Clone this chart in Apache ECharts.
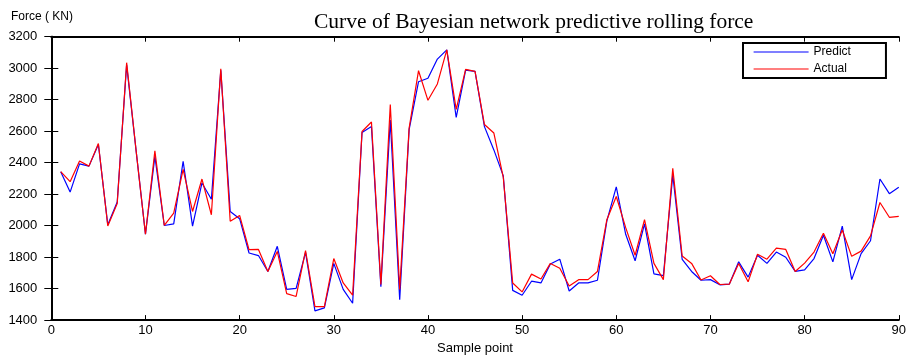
<!DOCTYPE html>
<html>
<head>
<meta charset="utf-8">
<script src="https://cdn.jsdelivr.net/npm/echarts@6/dist/echarts.min.js"></script>
<style>
  html, body { margin: 0; padding: 0; background: #fff; }
  #graph1 { width: 909px; height: 360px; }
</style>
</head>
<body>
<div id="graph1"></div>
<script>
var myChart1 = echarts.init(document.getElementById('graph1'));

// sample point numbers
var samples = [1,2,3,4,5,6,7,8,9,10,11,12,13,14,15,16,17,18,19,20,
  21,22,23,24,25,26,27,28,29,30,31,32,33,34,35,36,37,38,39,40,
  41,42,43,44,45,46,47,48,49,50,51,52,53,54,55,56,57,58,59,60,
  61,62,63,64,65,66,67,68,69,70,71,72,73,74,75,76,77,78,79,80,
  81,82,83,84,85,86,87,88,89,90];

// predicted rolling force (KN)
var predict = [2343,2213,2392,2378,2515,2005,2150,3021,2480,1945,
  2440,2001,2011,2409,1997,2271,2168,2986,2090,2044,
  1826,1810,1709,1869,1595,1601,1830,1459,1478,1760,
  1595,1507,2592,2629,1612,2671,1530,2610,2914,2936,
  3058,3116,2687,2988,2980,2629,2481,2316,1589,1558,
  1647,1636,1756,1787,1585,1636,1636,1653,2030,2246,
  1945,1777,2011,1694,1682,2322,1785,1709,1653,1657,
  1624,1628,1770,1673,1812,1760,1832,1799,1709,1719,
  1791,1939,1770,1997,1657,1822,1904,2296,2203,2244];

// actual rolling force (KN)
var actual = [2343,2279,2411,2378,2522,1998,2141,3035,2480,1945,
  2475,2001,2079,2357,2090,2296,2069,2996,2028,2065,
  1847,1849,1709,1836,1568,1550,1842,1486,1486,1791,
  1636,1558,2598,2658,1626,2769,1595,2620,2984,2796,
  2900,3116,2739,2992,2980,2642,2588,2306,1636,1579,
  1692,1661,1760,1729,1616,1657,1657,1709,2038,2185,
  1987,1812,2038,1760,1657,2364,1807,1760,1655,1682,
  1626,1628,1760,1643,1818,1787,1857,1849,1709,1762,
  1832,1952,1822,1972,1805,1838,1935,2147,2053,2059];

var xTicks = [0,10,20,30,40,50,60,70,80,90];
var yTicks = [1400,1600,1800,2000,2200,2400,2600,2800,3000,3200];

function pairs(xs, ys) {
    var out = [];
    for (var i = 0; i < xs.length; i++) {
        out.push([xs[i], ys[i]]);
    }
    return out;
}

var axisFont = { fontFamily: 'Liberation Sans', fontSize: 13, color: '#000' };
var frameLine = { show: true, lineStyle: { color: '#000', width: 2 } };
var plain = function (v) { return String(v); };

var option = {
    animation: false,
    backgroundColor: '#fff',
    title: {
        text: 'Curve of Bayesian network predictive rolling force',
        left: 309,
        top: 6,
        textStyle: {
            fontFamily: 'Liberation Serif',
            fontSize: 21.5,
            fontWeight: 'normal',
            color: '#000'
        }
    },
    legend: {
        data: ['Predict', 'Actual'],
        orient: 'vertical',
        left: 743,
        top: 43,
        itemWidth: 55,
        itemHeight: 12,
        itemGap: 5,
        padding: [3, 35, 3, 10],
        borderColor: '#000',
        borderWidth: 2,
        backgroundColor: '#fff',
        itemStyle: { opacity: 0 },
        lineStyle: { width: 1.2 },
        textStyle: { fontFamily: 'Liberation Sans', fontSize: 12, color: '#000' }
    },
    graphic: [{
        type: 'text',
        left: 11,
        top: 11,
        style: {
            text: 'Force ( KN)',
            font: '12px "Liberation Sans"',
            fill: '#000'
        }
    }],
    grid: {
        left: 51.3,
        right: 4.5,
        top: 36.7,
        bottom: 31.3
    },
    xAxis: [{
        type: 'value',
        min: 0,
        max: 90,
        interval: 10,
        name: 'Sample point',
        nameLocation: 'middle',
        nameGap: 17,
        nameTextStyle: axisFont,
        axisLine: frameLine,
        axisTick: { show: true, inside: true, length: 5, lineStyle: { color: '#000' } },
        axisLabel: Object.assign({ margin: 4, customValues: xTicks, formatter: plain }, axisFont),
        splitLine: { show: false }
    }, {
        type: 'value',
        position: 'top',
        min: 0,
        max: 90,
        interval: 10,
        axisLine: frameLine,
        axisTick: { show: true, inside: true, length: 5, lineStyle: { color: '#000' } },
        axisLabel: { show: false },
        splitLine: { show: false }
    }],
    yAxis: [{
        type: 'value',
        min: 1400,
        max: 3200,
        interval: 200,
        axisLine: frameLine,
        axisTick: { show: true, inside: true, length: 7, lineStyle: { color: '#000' } },
        axisLabel: Object.assign({ margin: 14, customValues: yTicks, formatter: plain }, axisFont),
        splitLine: { show: false }
    }, {
        type: 'value',
        position: 'right',
        min: 1400,
        max: 3200,
        interval: 200,
        axisLine: frameLine,
        axisTick: { show: true, inside: true, length: 7, lineStyle: { color: '#000' } },
        axisLabel: { show: false },
        splitLine: { show: false }
    }],
    series: [{
        name: 'Predict',
        type: 'line',
        symbol: 'none',
        color: '#0000ff',
        lineStyle: { color: '#0000ff', width: 1.2 },
        data: pairs(samples, predict)
    }, {
        name: 'Actual',
        type: 'line',
        symbol: 'none',
        color: '#ff0000',
        lineStyle: { color: '#ff0000', width: 1.2 },
        data: pairs(samples, actual)
    }]
};
myChart1.setOption(option);
</script>
</body>
</html>
